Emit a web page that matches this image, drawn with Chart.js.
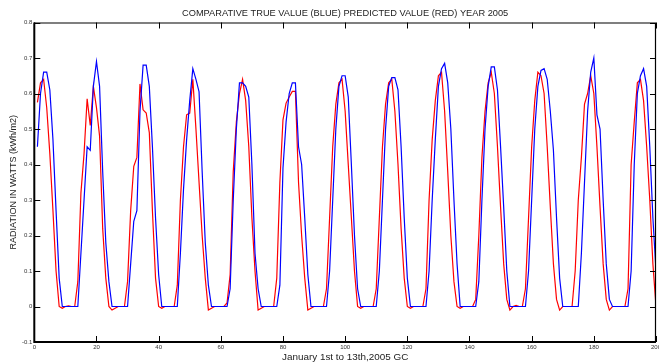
<!DOCTYPE html>
<html>
<head>
<meta charset="utf-8">
<script src="https://cdn.jsdelivr.net/npm/chart.js@4.4.0/dist/chart.umd.min.js"></script>
<style>
  html, body { margin: 0; padding: 0; background: #fff; }
  canvas { display: block; }
</style>
</head>
<body>
<canvas id="radiationChart" width="659" height="363"></canvas>
<script>
// Hourly radiation samples, January 1st to 13th 2005 (16 samples a day)

// true value (blue)
const trueValues = [
  0.45, 0.60, 0.66, 0.66, 0.61, 0.47, 0.27, 0.08, 0, 0, 0, 0, 0, 0, 0.15, 0.30,
  0.45, 0.44, 0.62, 0.69, 0.62, 0.38, 0.18, 0.07, 0, 0, 0, 0, 0, 0, 0.12, 0.24,
  0.27, 0.55, 0.68, 0.68, 0.62, 0.45, 0.25, 0.09, 0, 0, 0, 0, 0, 0, 0.15, 0.33,
  0.47, 0.58, 0.67, 0.64, 0.605, 0.38, 0.18, 0.06, 0, 0, 0, 0, 0, 0, 0.05, 0.30,
  0.50, 0.63, 0.63, 0.62, 0.59, 0.40, 0.15, 0.05, 0, 0, 0, 0, 0, 0, 0.06, 0.39,
  0.52, 0.60, 0.63, 0.63, 0.45, 0.40, 0.25, 0.09, 0, 0, 0, 0, 0, 0, 0.10, 0.30,
  0.50, 0.62, 0.65, 0.65, 0.59, 0.40, 0.20, 0.05, 0, 0, 0, 0, 0, 0, 0.10, 0.30,
  0.50, 0.62, 0.645, 0.645, 0.61, 0.45, 0.25, 0.08, 0, 0, 0, 0, 0, 0, 0.10, 0.30,
  0.47, 0.62, 0.67, 0.685, 0.63, 0.50, 0.30, 0.12, 0, 0, 0, 0, 0, 0, 0.07, 0.30,
  0.50, 0.62, 0.675, 0.675, 0.61, 0.45, 0.28, 0.10, 0, 0, 0, 0, 0, 0, 0.10, 0.30,
  0.50, 0.62, 0.665, 0.67, 0.64, 0.55, 0.44, 0.25, 0.08, 0, 0, 0, 0, 0, 0, 0.15,
  0.35, 0.55, 0.66, 0.70, 0.54, 0.50, 0.30, 0.12, 0.02, 0, 0, 0, 0, 0, 0, 0.10,
  0.40, 0.60, 0.65, 0.67, 0.62, 0.45, 0.25, 0.10
];

// predicted value (red)
const predictedValues = [
  0.575, 0.63, 0.64, 0.56, 0.43, 0.27, 0.10, 0, -0.005, 0, 0.002, 0, 0, 0.07, 0.32, 0.43,
  0.585, 0.51, 0.62, 0.56, 0.48, 0.22, 0.08, 0, -0.01, -0.005, 0, 0, 0, 0.07, 0.27, 0.395,
  0.42, 0.627, 0.554, 0.545, 0.49, 0.27, 0.08, 0, -0.005, 0, 0, 0, 0, 0.06, 0.30, 0.45,
  0.54, 0.545, 0.64, 0.50, 0.35, 0.20, 0.08, -0.01, -0.005, 0, 0, 0, 0, 0.01, 0.09, 0.38,
  0.52, 0.60, 0.64, 0.58, 0.45, 0.25, 0.10, -0.01, -0.005, 0, 0, 0, 0, 0.08, 0.35, 0.526,
  0.573, 0.59, 0.606, 0.606, 0.35, 0.20, 0.08, -0.01, -0.005, 0, 0, 0, 0, 0.05, 0.25, 0.45,
  0.57, 0.63, 0.64, 0.55, 0.40, 0.25, 0.10, 0, -0.005, 0, 0, 0, 0, 0.05, 0.25, 0.45,
  0.57, 0.63, 0.64, 0.55, 0.40, 0.22, 0.08, 0, -0.005, 0, 0, 0, 0, 0.05, 0.30, 0.47,
  0.58, 0.65, 0.66, 0.55, 0.38, 0.20, 0.07, 0, -0.005, 0, 0, 0, 0, 0.02, 0.20, 0.42,
  0.55, 0.63, 0.66, 0.60, 0.45, 0.28, 0.12, 0.02, -0.01, 0, 0.003, 0, 0, 0.05, 0.25, 0.45,
  0.58, 0.66, 0.65, 0.60, 0.45, 0.28, 0.12, 0.02, -0.01, 0, 0, 0, 0, 0.10, 0.30, 0.42,
  0.57, 0.60, 0.65, 0.60, 0.45, 0.28, 0.12, 0.02, -0.01, 0, 0, 0, 0, 0, 0.05, 0.40,
  0.52, 0.63, 0.64, 0.58, 0.45, 0.30, 0.12, 0
];

// axis ticks
const xTicks = [0, 20, 40, 60, 80, 100, 120, 140, 160, 180, 200];
const yTicks = [-0.1, 0, 0.1, 0.2, 0.3, 0.4, 0.5, 0.6, 0.7, 0.8];

const FONT = 'Liberation Sans, Arial, sans-serif';

// sample number on the x axis starts at 1
function toPoints(values) {
  return values.map((v, i) => ({ x: i + 1, y: v }));
}

// MATLAB style box: inward ticks on all four sides
const matlabFrame = {
  id: 'matlabFrame',
  afterDatasetsDraw(chart) {
    const { ctx, chartArea: a, scales: { x, y } } = chart;
    const len = 6;
    ctx.save();
    ctx.strokeStyle = '#000';
    ctx.lineWidth = 1;
    ctx.beginPath();
    xTicks.forEach(function (t) {
      const px = Math.round(x.getPixelForValue(t)) + 0.5;
      ctx.moveTo(px, a.bottom); ctx.lineTo(px, a.bottom - len);
      ctx.moveTo(px, a.top); ctx.lineTo(px, a.top + len);
    });
    yTicks.forEach(function (t) {
      const py = Math.round(y.getPixelForValue(t)) + 0.5;
      ctx.moveTo(a.left, py); ctx.lineTo(a.left + len, py);
      ctx.moveTo(a.right, py); ctx.lineTo(a.right - len, py);
    });
    ctx.stroke();

    // top and right edges
    ctx.lineWidth = 1.2;
    ctx.beginPath();
    ctx.moveTo(a.left, a.top + 0.5);
    ctx.lineTo(a.right - 0.5, a.top + 0.5);
    ctx.lineTo(a.right - 0.5, a.bottom);
    ctx.stroke();

    // heavier left and bottom edges
    ctx.lineWidth = 2;
    ctx.beginPath();
    ctx.moveTo(a.left, a.top);
    ctx.lineTo(a.left, a.bottom);
    ctx.lineTo(a.right, a.bottom);
    ctx.stroke();
    ctx.restore();
  }
};

const ctx = document.getElementById('radiationChart').getContext('2d');

new Chart(ctx, {
  type: 'line',
  data: {
    datasets: [
      {
        label: 'True value',
        data: toPoints(trueValues),
        borderColor: '#0000ff',
        borderWidth: 1.2,
        pointRadius: 0,
        tension: 0,
        fill: false,
      },
      {
        label: 'Predicted value',
        data: toPoints(predictedValues),
        borderColor: '#ff0000',
        borderWidth: 1.2,
        pointRadius: 0,
        tension: 0,
        fill: false,
      },
    ],
  },
  options: {
    responsive: false,
    animation: false,
    devicePixelRatio: 1,
    layout: { padding: { left: 0, right: 3, top: 0, bottom: 0 } },
    plugins: {
      legend: { display: false },
      tooltip: { enabled: false },
      title: {
        display: true,
        fullSize: false,
        text: 'COMPARATIVE TRUE VALUE (BLUE) PREDICTED VALUE (RED) YEAR 2005',
        color: '#222',
        font: { family: FONT, size: 9.25, weight: 'normal' },
        padding: { top: 8.4, bottom: 3 },
      },
    },
    scales: {
      x: {
        type: 'linear',
        min: 0,
        max: 200,
        afterBuildTicks: function (scale) {
          scale.ticks = xTicks.map((v) => ({ value: v }));
        },
        afterFit: function (scale) {
          scale.height = 21;
          scale.paddingLeft = 0;
          scale.paddingRight = 0;
        },
        ticks: {
          color: '#333',
          font: { family: FONT, size: 6 },
          padding: 2,
          maxRotation: 0,
          autoSkip: false,
        },
        grid: { display: false, drawTicks: false },
        border: { display: false },
        title: {
          display: true,
          text: 'January 1st to 13th,2005 GC',
          color: '#222',
          font: { family: FONT, size: 9.9 },
          padding: { top: 0, bottom: 0 },
        },
      },
      y: {
        min: -0.1,
        max: 0.8,
        afterBuildTicks: function (scale) {
          scale.ticks = yTicks.map((v) => ({ value: v }));
        },
        afterFit: function (scale) {
          scale.width = 34.3;
          scale.paddingTop = 0;
          scale.paddingBottom = 0;
        },
        ticks: {
          color: '#333',
          font: { family: FONT, size: 6 },
          padding: 2,
          autoSkip: false,
          callback: function (value) {
            return String(Math.round(value * 10) / 10);
          },
        },
        grid: { display: false, drawTicks: false },
        border: { display: false },
        title: {
          display: true,
          text: 'RADIATION IN WATTS (kWh/m2)',
          color: '#222',
          font: { family: FONT, size: 9 },
          padding: { top: 8, bottom: 0 },
        },
      },
    },
  },
  plugins: [matlabFrame],
});
</script>
</body>
</html>
